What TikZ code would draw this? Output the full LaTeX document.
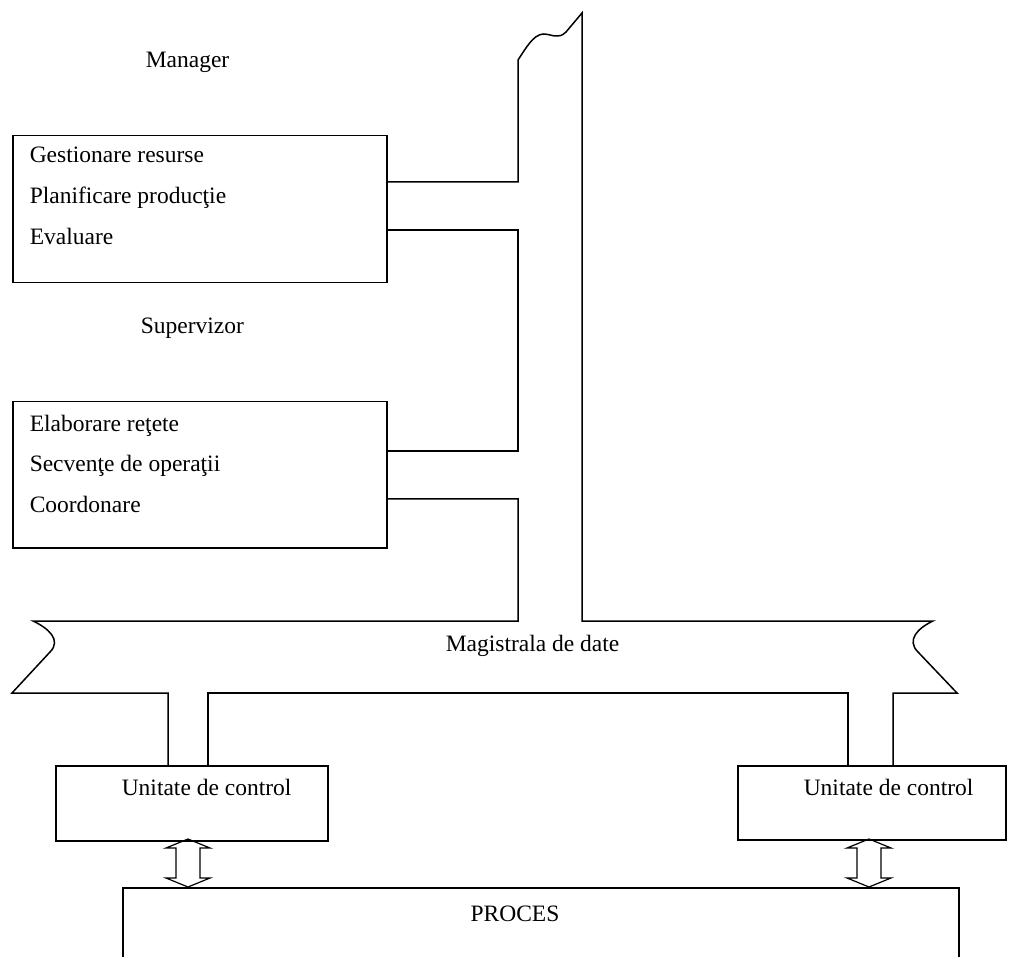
\documentclass[tikz,border=0pt]{standalone}
\usepackage{fontspec}
\setmainfont{Liberation Serif}
\begin{document}
\begin{tikzpicture}[x=1pt,y=-1pt,line width=1.5pt,line join=miter,
  box/.style={draw,rectangle,inner sep=0pt,anchor=north west},
  lbl/.style={inner sep=0pt,anchor=base west,font=\fontsize{23.5}{28}\selectfont},
  clbl/.style={inner sep=0pt,anchor=base,font=\fontsize{23.5}{28}\selectfont}]
\useasboundingbox (0,0) rectangle (1010,957);
\clip (0,0) rectangle (1010,957);

% boxes
\node[box,minimum width=374pt,minimum height=147pt] (mgr) at (12,135) {};
\node[box,minimum width=374pt,minimum height=146pt] (sup) at (12,401) {};
\node[box,minimum width=272pt,minimum height=75pt] (uc1) at (55,765) {};
\node[box,minimum width=268pt,minimum height=74pt] (uc2) at (737,765) {};
\node[box,minimum width=836pt,minimum height=140pt] (proc) at (122,887) {};

% texts
\node[lbl] (tmgr) at (145,68) {Manager};
\node[lbl] (g1) at (29,163) {Gestionare resurse};
\node[lbl] (g2) at (29,204) {Planificare producţie};
\node[lbl] (g3) at (29,245) {Evaluare};
\node[lbl] (tsup) at (140,334) {Supervizor};
\node[lbl] (s1t) at (29,432) {Elaborare reţete};
\node[lbl] (s2t) at (29,472) {Secvenţe de operaţii};
\node[lbl] (s3t) at (29,512) {Coordonare};
\node[lbl] (tbus) at (445,651) {Magistrala de date};
\node[lbl] (tuc1) at (121,795) {Unitate de control};
\node[lbl] (tuc2) at (803,795) {Unitate de control};
\node[clbl] (tproc) at (515,921) {PROCES};

% bus and trunk corner points
\coordinate (m1) at (518,182);
\coordinate (m2) at (518,230);
\coordinate (s1) at (518,451);
\coordinate (s2) at (518,499);
\coordinate (top) at (518,60);
\coordinate (topR) at (582,13);
\coordinate (busTL) at (518,621);
\coordinate (busTR) at (582,621);
\coordinate (busL1) at (33,621);
\coordinate (busL2) at (12,693);
\coordinate (busR1) at (933,621);
\coordinate (busR2) at (957,693);
\coordinate (a1) at (168,693);
\coordinate (a2) at (208,693);
\coordinate (a3) at (848,693);
\coordinate (a4) at (893,693);

% data bus outline
\draw (sup.east |- s2) -- (s2) -- (busTL) -- (busL1)
  .. controls (48,628) and (62,640) .. (50,652) -- (busL2) -- (a1) -- (a1 |- uc1.north);
\draw (a2 |- uc1.north) -- (a2) -- (a3) -- (a3 |- uc2.north);
\draw (a4 |- uc2.north) -- (a4) -- (busR2) -- (918,652)
  .. controls (906,640) and (918,628) .. (busR1) -- (busTR) -- (topR)
  -- (566,32) .. controls (558,40) and (552,34) .. (543,34)
  .. controls (533,35) and (526,48) .. (top) -- (m1) -- (mgr.east |- m1);
\draw (mgr.east |- m2) -- (m2) -- (s1) -- (sup.east |- s1);

% two-way links between control units and process
\coordinate (ar1) at (188,839);
\coordinate (ar2) at (869,839);
\foreach \a in {ar1,ar2}{
  \draw[line width=1.2pt] (\a) -- ++(22,9) -- ++(-10,0) -- ++(0,30) -- ++(10,0) -- ++(-22,9)
    -- ++(-22,-9) -- ++(10,0) -- ++(0,-30) -- ++(-10,0) -- cycle;
}
\end{tikzpicture}
\end{document}
